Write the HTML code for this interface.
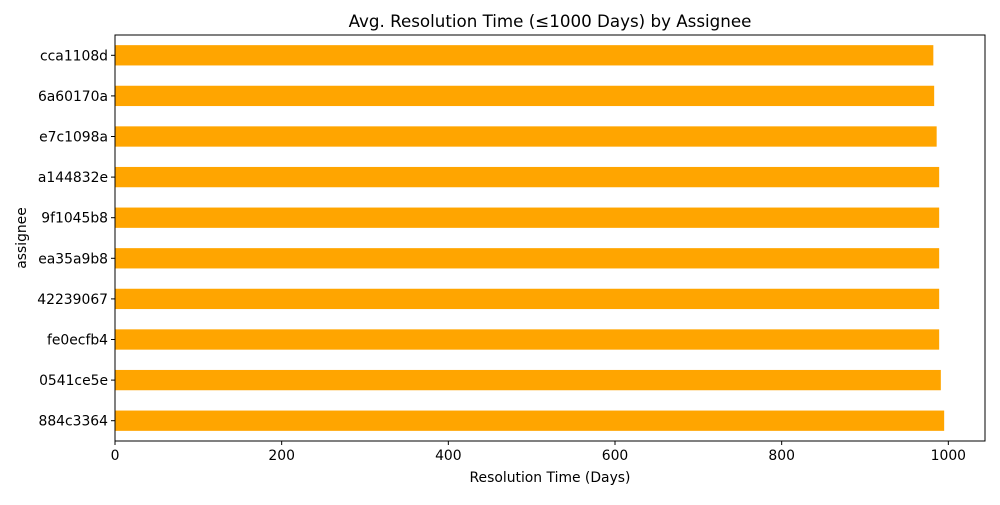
<!DOCTYPE html>
<html><head><meta charset="utf-8"><style>body{margin:0;background:#fff}svg{font-family:"DejaVu Sans","Liberation Sans",sans-serif}</style></head>
<body>
<svg id="c" width="1000" height="500"></svg>
<script>
const categories=["cca1108d","6a60170a","e7c1098a","a144832e","9f1045b8","ea35a9b8","42239067","fe0ecfb4","0541ce5e","884c3364"];
const values=[982,983,986,989,989,989,989,989,991,995];
const xTicks=[0,200,400,600,800,1000];
const L=115,R=985,T=35,B=441,XMAX=1044;
const ns="http://www.w3.org/2000/svg",svg=document.getElementById("c");
function x(v){return L+v/XMAX*(R-L);}
const band=(B-T)/categories.length;
function y(i){return T+band*(i+0.5);}
function mk(t,a,txt){const e=document.createElementNS(ns,t);for(const k in a)e.setAttribute(k,a[k]);if(txt!==undefined)e.textContent=txt;svg.appendChild(e);return e;}
categories.forEach((c,i)=>{
 const r=mk("rect",{x:x(0),y:y(i)-band/4,width:x(values[i])-x(0),height:band/2,fill:"#ffa500"});
 
 
 mk("line",{x1:L-4,x2:L,y1:y(i),y2:y(i),stroke:"#000"});
 const t=mk("text",{x:L-7,y:y(i)+5,"text-anchor":"end","font-size":13.9},c);
 
 
});
xTicks.forEach(v=>{
 mk("line",{x1:x(v),x2:x(v),y1:B,y2:B+4,stroke:"#000"});
 const t=mk("text",{x:x(v),y:B+19,"text-anchor":"middle","font-size":13.9},v);
 
 
});
const f=mk("rect",{x:L,y:T,width:R-L,height:B-T,fill:"none",stroke:"#000","stroke-width":1});


const ti=mk("text",{x:(L+R)/2,y:27,"text-anchor":"middle","font-size":16.7},"Avg. Resolution Time (≤1000 Days) by Assignee");


const xl=mk("text",{x:(L+R)/2,y:482,"text-anchor":"middle","font-size":13.9},"Resolution Time (Days)");


const yl=mk("text",{x:26,y:(T+B)/2,"text-anchor":"middle","font-size":13.9,transform:"rotate(-90 26 "+(T+B)/2+")"},"assignee");


</script>
</body></html>
